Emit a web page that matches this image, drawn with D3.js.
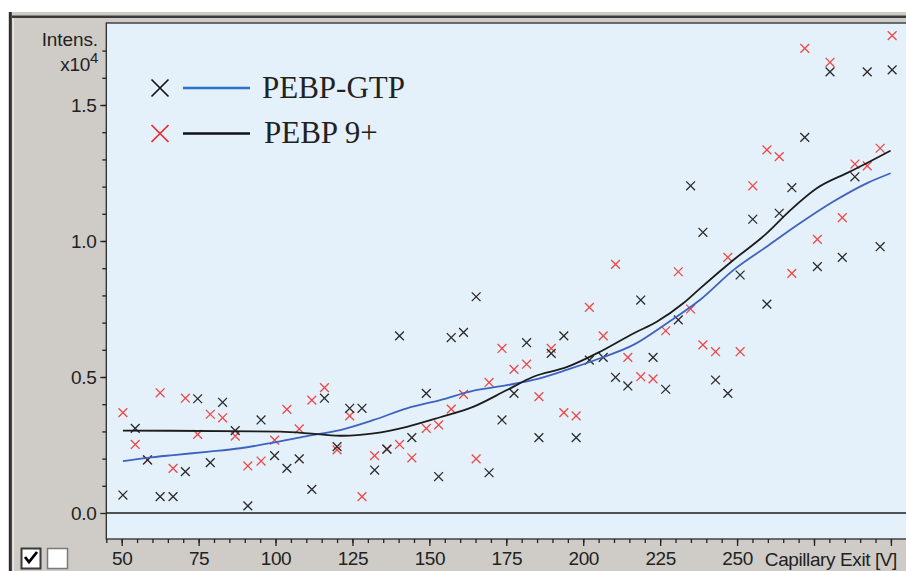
<!DOCTYPE html>
<html>
<head>
<meta charset="utf-8">
<script src="https://cdn.jsdelivr.net/npm/d3@7"></script>
<style>
  body { margin: 0; background: #fff; }
  svg { display: block; }
</style>
</head>
<body>
<div id="chart"></div>
<script>
// capillary exit voltage of each measurement [V]
const voltages = [50.4, 54.4, 58.4, 62.5, 66.7, 70.7, 74.7, 78.8, 82.8, 86.9,
  91.0, 95.3, 99.7, 103.7, 107.7, 111.8, 115.9, 120.0, 124.1, 128.1,
  132.2, 136.2, 140.3, 144.3, 149.0, 153.0, 157.1, 161.1, 165.2, 169.4,
  173.6, 177.5, 181.6, 185.6, 189.6, 193.7, 197.7, 202.0, 206.5, 210.5,
  214.5, 218.7, 222.7, 226.8, 230.9, 234.9, 238.9, 243.0, 247.0, 251.0,
  255.1, 259.7, 263.7, 267.8, 272.0, 276.1, 280.2, 284.2, 288.3, 292.3,
  296.5, 300.4];

// intensities x10^4
const gtpIntensity = [0.066, 0.311, 0.195, 0.060, 0.060, 0.152, 0.420, 0.185, 0.407, 0.303,
  0.026, 0.342, 0.211, 0.164, 0.199, 0.087, 0.422, 0.244, 0.385, 0.385,
  0.158, 0.235, 0.651, 0.277, 0.440, 0.134, 0.645, 0.664, 0.795, 0.148,
  0.342, 0.440, 0.626, 0.277, 0.587, 0.651, 0.277, 0.562, 0.572, 0.499,
  0.467, 0.783, 0.572, 0.455, 0.710, 1.203, 1.032, 0.489, 0.440, 0.875,
  1.080, 0.768, 1.102, 1.196, 1.381, 0.906, 1.622, 0.940, 1.236, 1.622,
  0.979, 1.629];

const ninePlusIntensity = [0.369, 0.252, 0.195, 0.442, 0.164, 0.422, 0.289, 0.363, 0.350, 0.283,
  0.173, 0.191, 0.268, 0.381, 0.309, 0.415, 0.461, 0.232, 0.357, 0.060,
  0.211, 0.235, 0.252, 0.203, 0.311, 0.324, 0.382, 0.436, 0.199, 0.480,
  0.605, 0.528, 0.547, 0.428, 0.605, 0.369, 0.357, 0.756, 0.651, 0.914,
  0.572, 0.501, 0.493, 0.670, 0.887, 0.750, 0.618, 0.593, 0.940, 0.593,
  1.203, 1.335, 1.310, 0.881, 1.708, 1.006, 1.657, 1.086, 1.283, 1.276,
  1.341, 1.755];

// smoothed curves
const gtpFitV = [50.4, 58.4, 66.9, 77.7, 88.5, 99.4, 110.2, 121.0, 131.9, 142.7,
  153.5, 164.4, 175.2, 183.8, 194.6, 205.5, 216.3, 227.1, 237.9, 248.8,
  259.6, 270.4, 281.3, 292.1, 299.9];
const gtpFit = [0.191, 0.203, 0.213, 0.225, 0.238, 0.259, 0.283, 0.305, 0.342, 0.385,
  0.415, 0.450, 0.470, 0.489, 0.526, 0.569, 0.618, 0.697, 0.783, 0.893,
  0.979, 1.065, 1.145, 1.212, 1.249];

const nineFitV = [50.4, 101.5, 113.5, 122.0, 131.9, 142.7, 153.5, 164.4, 175.2, 183.8,
  194.6, 205.5, 216.3, 223.9, 232.5, 238.0, 248.8, 259.6, 267.0, 275.9,
  286.7, 292.1, 299.9];
const nineFit = [0.303, 0.299, 0.290, 0.284, 0.293, 0.317, 0.352, 0.391, 0.452, 0.501,
  0.536, 0.593, 0.660, 0.703, 0.771, 0.826, 0.930, 1.028, 1.110, 1.194,
  1.255, 1.286, 1.332];

const xTickLabels = [50, 75, 100, 125, 150, 175, 200, 225, 250];
const yTickLabels = [0.0, 0.5, 1.0, 1.5];
const legendNames = ['PEBP-GTP', 'PEBP 9+'];

const width = 906, height = 571;
const plot = {left: 106.3, right: 906.3, top: 23, bottom: 539};
const labelFont = '19px "Liberation Sans", Arial, sans-serif';

const svg = d3.select('#chart').append('svg')
    .attr('width', width)
    .attr('height', height);

// window frame
svg.append('rect')
  .attr('x', 9).attr('y', 12).attr('width', width).attr('height', height)
  .attr('fill', '#cfccc7');
svg.append('line')
  .attr('x1', 12).attr('x2', width).attr('y1', 16.8).attr('y2', 16.8)
  .attr('stroke', '#3a3a3a').attr('stroke-width', 2.5);
svg.append('line')
  .attr('x1', 10.3).attr('x2', 10.3).attr('y1', 12).attr('y2', height)
  .attr('stroke', '#2e2e2e').attr('stroke-width', 3);
svg.append('line')
  .attr('x1', 13.2).attr('x2', 13.2).attr('y1', 18).attr('y2', height)
  .attr('stroke', '#f4f4f4').attr('stroke-width', 1);

const x = d3.scaleLinear().domain([45, 305]).range([plot.left, plot.right]);
const y = d3.scaleLinear().domain([0, 1.5]).range([513, 105]);

svg.append('rect')
  .attr('x', plot.left).attr('y', plot.top)
  .attr('width', plot.right - plot.left + 5).attr('height', plot.bottom - plot.top)
  .attr('fill', '#e5f1fa')
  .attr('stroke', '#2b2b2b').attr('stroke-width', 1.3);

// y axis
const yMinor = d3.range(1, 18).map(d => d / 10);
svg.append('g')
  .attr('transform', `translate(${plot.left},0)`)
  .call(d3.axisLeft(y).tickValues(yMinor).tickSize(4).tickFormat(''))
  .call(g => g.select('.domain').remove())
  .call(g => g.selectAll('line').attr('stroke', '#222').attr('stroke-width', 1.3));
svg.append('g')
  .attr('transform', `translate(${plot.left},0)`)
  .call(d3.axisLeft(y).tickValues(yTickLabels).tickSize(6).tickPadding(4).tickFormat(d3.format('.1f')))
  .call(g => g.select('.domain').remove())
  .call(g => g.selectAll('line').attr('stroke', '#222').attr('stroke-width', 1.3))
  .call(g => g.selectAll('text')
    .attr('fill', '#222')
    .style('font', labelFont)
    .attr('letter-spacing', '-0.4'));

svg.append('text')
  .attr('x', 98).attr('y', 46)
  .attr('text-anchor', 'end')
  .attr('fill', '#222').attr('letter-spacing', '-0.1')
  .style('font', labelFont)
  .text('Intens.');
const unit = svg.append('text')
  .attr('x', 98).attr('y', 71)
  .attr('text-anchor', 'end')
  .attr('fill', '#222').attr('letter-spacing', '-0.3')
  .style('font', labelFont);
unit.append('tspan').text('x10');
unit.append('tspan').attr('dy', -8).style('font-size', '15px').text('4');

// x axis
svg.append('g')
  .attr('transform', `translate(0,${plot.bottom})`)
  .call(d3.axisBottom(x).tickValues(d3.range(45, 305, 5)).tickSize(4).tickFormat(''))
  .call(g => g.select('.domain').remove())
  .call(g => g.selectAll('line').attr('stroke', '#222').attr('stroke-width', 1.3));
svg.append('g')
  .attr('transform', `translate(0,${plot.bottom})`)
  .call(d3.axisBottom(x).tickValues(d3.range(50, 305, 25)).tickSize(7).tickPadding(6)
    .tickFormat(d => xTickLabels.includes(d) ? d : ''))
  .call(g => g.select('.domain').remove())
  .call(g => g.selectAll('line').attr('stroke', '#222').attr('stroke-width', 1.3))
  .call(g => g.selectAll('text')
    .attr('fill', '#222')
    .style('font', labelFont)
    .attr('letter-spacing', '-0.4'));

svg.append('text')
  .attr('x', 897).attr('y', 566)
  .attr('text-anchor', 'end')
  .attr('fill', '#222').attr('letter-spacing', '-0.4')
  .style('font', labelFont)
  .text('Capillary Exit [V]');

// zero line
svg.append('line')
  .attr('x1', plot.left).attr('x2', plot.right)
  .attr('y1', y(0)).attr('y2', y(0))
  .attr('stroke', '#1e1e1e').attr('stroke-width', 1.6);

// markers
const cross = (cx, cy, r) => `M${cx - r},${cy - r}L${cx + r},${cy + r}M${cx - r},${cy + r}L${cx + r},${cy - r}`;

svg.append('g')
  .selectAll('path')
  .data(voltages.map((v, i) => [v, ninePlusIntensity[i]]))
  .join('path')
    .attr('d', d => cross(x(d[0]), y(d[1]), 4.4))
    .attr('stroke', '#ee4848')
    .attr('stroke-width', 1.3)
    .attr('fill', 'none');

svg.append('g')
  .selectAll('path')
  .data(voltages.map((v, i) => [v, gtpIntensity[i]]))
  .join('path')
    .attr('d', d => cross(x(d[0]), y(d[1]), 4.4))
    .attr('stroke', '#2a2a2a')
    .attr('stroke-width', 1.3)
    .attr('fill', 'none');

// fit curves
const line = d3.line()
  .x(d => x(d[0]))
  .y(d => y(d[1]))
  .curve(d3.curveMonotoneX);

svg.append('path')
  .datum(gtpFitV.map((v, i) => [v, gtpFit[i]]))
  .attr('d', line)
  .attr('fill', 'none')
  .attr('stroke', '#3d62c0')
  .attr('stroke-width', 1.8);

svg.append('path')
  .datum(nineFitV.map((v, i) => [v, nineFit[i]]))
  .attr('d', line)
  .attr('fill', 'none')
  .attr('stroke', '#1c1c1c')
  .attr('stroke-width', 1.8);

// legend
const legend = svg.append('g');
const legendRows = [
  {name: legendNames[0], mark: '#111', line: '#2a72c8', y: 88, tx: 262},
  {name: legendNames[1], mark: '#ea2b2b', line: '#111', y: 133.5, tx: 264}
];
legendRows.forEach(r => {
  legend.append('path')
    .attr('d', cross(160, r.y, 8.5))
    .attr('stroke', r.mark).attr('stroke-width', 1.7).attr('fill', 'none');
  legend.append('line')
    .attr('x1', 183).attr('x2', 250).attr('y1', r.y).attr('y2', r.y)
    .attr('stroke', r.line).attr('stroke-width', 2.4);
  legend.append('text')
    .attr('x', r.tx).attr('y', r.y + 9.5)
    .attr('fill', '#222')
    .style('font', '31px "Liberation Serif", "Times New Roman", serif')
    .text(r.name);
});

// checkboxes
const boxes = svg.append('g');
boxes.append('rect')
  .attr('x', 21.5).attr('y', 548.5).attr('width', 19).attr('height', 20)
  .attr('fill', '#fff').attr('stroke', '#3a3a3a').attr('stroke-width', 2);
boxes.append('path')
  .attr('d', 'M25,557 L29,562 L37,552')
  .attr('fill', 'none').attr('stroke', '#000').attr('stroke-width', 2.8);
boxes.append('rect')
  .attr('x', 47.5).attr('y', 548.5).attr('width', 20).attr('height', 20)
  .attr('fill', '#fff').attr('stroke', '#7a7a7a').attr('stroke-width', 1.5);
</script>
</body>
</html>
